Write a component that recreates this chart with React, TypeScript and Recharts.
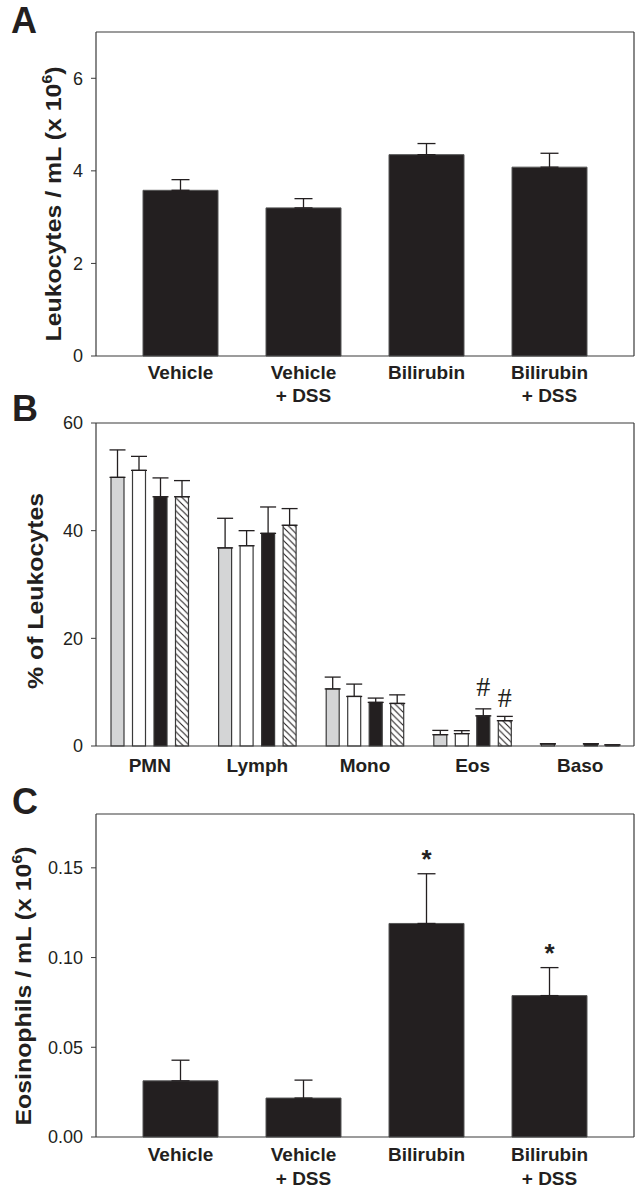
import { BarChart, Bar, XAxis, YAxis, ErrorBar, LabelList } from 'recharts'

const INK = '#231f20'
const AXIS = '#3a3a3a'
const FONT = '"Liberation Sans", Arial, sans-serif'
const SERIF = '"Liberation Serif", "Times New Roman", serif'

// Panels A and C: treatment groups
const groups = ['Vehicle', 'Vehicle + DSS', 'Bilirubin', 'Bilirubin + DSS']
const leukocytes = [3.58, 3.2, 4.35, 4.08]
const leukocytesSem = [0.23, 0.2, 0.24, 0.3]
const eosinophils = [0.0313, 0.0217, 0.119, 0.0788]
const eosinophilsSem = [0.0115, 0.01, 0.0277, 0.0156]
const eosinophilsMark = ['', '', '*', '*']

// Panel B: leukocyte differential (%)
const cellTypes = ['PMN', 'Lymph', 'Mono', 'Eos', 'Baso']
const pctVehicle = [49.9, 36.8, 10.6, 2.1, 0.4]
const pctVehicleSem = [5.1, 5.5, 2.2, 0.8, 0]
const pctVehicleDss = [51.2, 37.2, 9.2, 2.3, 0]
const pctVehicleDssSem = [2.6, 2.8, 2.3, 0.55, 0]
const pctBilirubin = [46.3, 39.5, 8.1, 5.6, 0.4]
const pctBilirubinSem = [3.5, 4.9, 0.8, 1.3, 0]
const pctBilirubinDss = [46.3, 41.0, 7.9, 4.7, 0.2]
const pctBilirubinDssSem = [3.0, 3.1, 1.6, 0.8, 0]
const pctMarkBilirubin = ['', '', '', '#', '']
const pctMarkBilirubinDss = ['', '', '', '#', '']

const leukoData = groups.map((name, i) => ({ name, value: leukocytes[i], err: [0, leukocytesSem[i]] }))
const eosData = groups.map((name, i) => ({
  name, value: eosinophils[i], err: [0, eosinophilsSem[i]], mark: eosinophilsMark[i],
}))
const diffData = cellTypes.map((name, i) => ({
  name,
  veh: pctVehicle[i], vehErr: [0, pctVehicleSem[i]],
  vehDss: pctVehicleDss[i], vehDssErr: [0, pctVehicleDssSem[i]],
  bil: pctBilirubin[i], bilErr: [0, pctBilirubinSem[i]], bilMark: pctMarkBilirubin[i],
  bilDss: pctBilirubinDss[i], bilDssErr: [0, pctBilirubinDssSem[i]], bilDssMark: pctMarkBilirubinDss[i],
}))

const tickStyle = { fontSize: 18, fill: INK, fontFamily: FONT }
const line = { stroke: AXIS, strokeWidth: 1.2 }

// two-line category label ("Vehicle" / "+ DSS")
const GroupTick = ({ x, y, payload, d1, d2 }: any) => {
  const [first, second] = String(payload.value).split(' + ')
  return (
    <text x={x} y={y} textAnchor="middle" fill={INK} fontFamily={FONT} fontSize={19} fontWeight="bold">
      <tspan x={x} dy={d1}>{first}</tspan>
      {second && <tspan x={x} dy={d2}>+ {second}</tspan>}
    </text>
  )
}

// rotated axis title, stretched a bit along its length (original uses a condensed face)
const YTitle = ({ tx, ty, text, sup }: any) => (
  <text x={0} y={0} transform={`translate(${tx} ${ty}) rotate(-90) scale(1.13 1)`} textAnchor="middle"
    fontFamily={FONT} fontSize={22} fontWeight="bold" fill={INK}>
    {text}
    {sup && <tspan dy={-9} fontSize={14}>{sup}</tspan>}
    {sup && <tspan dy={9}>)</tspan>}
  </text>
)

// significance mark drawn above the error bar cap
const markContent = (values: number[], sem: number[], fontSize: number, family: string, lift: number, bold: boolean) =>
  (props: any) => {
    const vb = props.viewBox ?? props
    const x = vb.x ?? props.x
    const y = vb.y ?? props.y
    const width = vb.width ?? props.width
    const height = vb.height ?? props.height
    const { value, index } = props
    if (!value) return null
    const pxPerUnit = height / values[index]
    const top = y - sem[index] * pxPerUnit
    return (
      <text x={x + width / 2} y={top - lift} textAnchor="middle" fontSize={fontSize}
        fontFamily={family} fontWeight={bold ? 'bold' : 'normal'} fill={INK}>
        {value}
      </text>
    )
  }

export default function App() {
  return (
    <div style={{ position: 'absolute', left: 0, top: 0, width: 635, height: 1193, background: '#fff' }}>
      {/* A */}
      <div style={{ position: 'absolute', left: 0, top: 0 }}>
        <BarChart width={635} height={405} data={leukoData} margin={{ top: 31, right: 0, bottom: 0, left: 0 }}>
          <XAxis dataKey="name" height={49} padding={{ left: 23, right: 23 }} axisLine={line}
            tickLine={false} tickSize={0} tickMargin={0} interval={0} tick={<GroupTick d1={22.5} d2={23.5} />} />
          <XAxis xAxisId="top" orientation="top" dataKey="name" height={1} tick={false} tickLine={false} axisLine={line} />
          <YAxis width={96} domain={[0, 7]} ticks={[0, 2, 4, 6]} tickSize={5} tickMargin={8} tick={tickStyle}
            axisLine={line} tickLine={{ stroke: AXIS }}
            label={<YTitle tx={60.5} ty={204} text="Leukocytes / mL (x 10" sup="6" />} />
          <YAxis yAxisId="right" orientation="right" width={1} domain={[0, 1]} tick={false} tickLine={false} axisLine={line} />
          <Bar dataKey="value" fill={INK} stroke="#555" strokeWidth={1} barSize={75} isAnimationActive={false}>
            <ErrorBar dataKey="err" width={9} stroke={INK} strokeWidth={1.3} direction="y" isAnimationActive={false} />
          </Bar>
        </BarChart>
      </div>

      {/* B */}
      <div style={{ position: 'absolute', left: 0, top: 400 }}>
        <BarChart width={635} height={390} data={diffData} margin={{ top: 22, right: 0, bottom: 0, left: 0 }}
          barGap={8.5}>
          <defs>
            <pattern id="hatch" patternUnits="userSpaceOnUse" width={6.5} height={6.5}>
              <rect width={6.5} height={6.5} fill="#fff" />
              <path d="M-1,-1 L7.5,7.5 M-1,5.5 L1,7.5 M5.5,-1 L7.5,1" stroke={INK} strokeWidth={1.1} />
            </pattern>
          </defs>
          <XAxis dataKey="name" height={44} axisLine={line} tickLine={false}
            tickSize={0} tickMargin={0} interval={0} tick={<GroupTick d1={26} d2={0} />} />
          <XAxis xAxisId="top" orientation="top" dataKey="name" height={1} tick={false} tickLine={false} axisLine={line} />
          <YAxis width={96} domain={[0, 60]} ticks={[0, 20, 40, 60]} tickSize={5} tickMargin={8} tick={tickStyle}
            axisLine={line} tickLine={{ stroke: AXIS }}
            label={<YTitle tx={42.5} ty={191} text="% of Leukocytes" />} />
          <YAxis yAxisId="right" orientation="right" width={1} domain={[0, 1]} tick={false} tickLine={false} axisLine={line} />
          <Bar dataKey="veh" fill="#d4d5d6" stroke={AXIS} strokeWidth={1.2} barSize={13} isAnimationActive={false}>
            <ErrorBar dataKey="vehErr" width={8} stroke={INK} strokeWidth={1.3} direction="y" isAnimationActive={false} />
          </Bar>
          <Bar dataKey="vehDss" fill="#fff" stroke={AXIS} strokeWidth={1.2} barSize={13} isAnimationActive={false}>
            <ErrorBar dataKey="vehDssErr" width={8} stroke={INK} strokeWidth={1.3} direction="y" isAnimationActive={false} />
          </Bar>
          <Bar dataKey="bil" fill={INK} stroke={AXIS} strokeWidth={1.2} barSize={13} isAnimationActive={false}>
            <ErrorBar dataKey="bilErr" width={8} stroke={INK} strokeWidth={1.3} direction="y" isAnimationActive={false} />
            <LabelList dataKey="bilMark" content={markContent(pctBilirubin, pctBilirubinSem, 28, SERIF, 12.5, false)} />
          </Bar>
          <Bar dataKey="bilDss" fill="url(#hatch)" stroke={AXIS} strokeWidth={1.2} barSize={13} isAnimationActive={false}>
            <ErrorBar dataKey="bilDssErr" width={8} stroke={INK} strokeWidth={1.3} direction="y" isAnimationActive={false} />
            <LabelList dataKey="bilDssMark" content={markContent(pctBilirubinDss, pctBilirubinDssSem, 28, SERIF, 9, false)} />
          </Bar>
        </BarChart>
      </div>

      {/* C */}
      <div style={{ position: 'absolute', left: 0, top: 790 }}>
        <BarChart width={635} height={403} data={eosData} margin={{ top: 23, right: 0, bottom: 0, left: 0 }}>
          <XAxis dataKey="name" height={56} padding={{ left: 23, right: 23 }} axisLine={line}
            tickLine={false} tickSize={0} tickMargin={0} interval={0} tick={<GroupTick d1={24} d2={24} />} />
          <XAxis xAxisId="top" orientation="top" dataKey="name" height={1} tick={false} tickLine={false} axisLine={line} />
          <YAxis width={96} domain={[0, 0.18]} ticks={[0, 0.05, 0.1, 0.15]} tickFormatter={(v: number) => v.toFixed(2)}
            tickSize={5} tickMargin={8} tick={tickStyle} axisLine={line} tickLine={{ stroke: AXIS }}
            label={<YTitle tx={30.5} ty={196} text="Eosinophils / mL (x 10" sup="6" />} />
          <YAxis yAxisId="right" orientation="right" width={1} domain={[0, 1]} tick={false} tickLine={false} axisLine={line} />
          <Bar dataKey="value" fill={INK} stroke="#555" strokeWidth={1} barSize={75} isAnimationActive={false}>
            <ErrorBar dataKey="err" width={9} stroke={INK} strokeWidth={1.3} direction="y" isAnimationActive={false} />
            <LabelList dataKey="mark" content={markContent(eosinophils, eosinophilsSem, 26, FONT, 5.5, true)} />
          </Bar>
        </BarChart>
      </div>

      {/* panel letters */}
      <svg width={635} height={1193} style={{ position: 'absolute', left: 0, top: 0, pointerEvents: 'none' }}>
        <text x={11} y={33} fontFamily={FONT} fontSize={36} fontWeight="bold" fill={INK}>A</text>
        <text x={12} y={421} fontFamily={FONT} fontSize={36} fontWeight="bold" fill={INK}>B</text>
        <text x={12} y={814} fontFamily={FONT} fontSize={36} fontWeight="bold" fill={INK}>C</text>
      </svg>
    </div>
  )
}
